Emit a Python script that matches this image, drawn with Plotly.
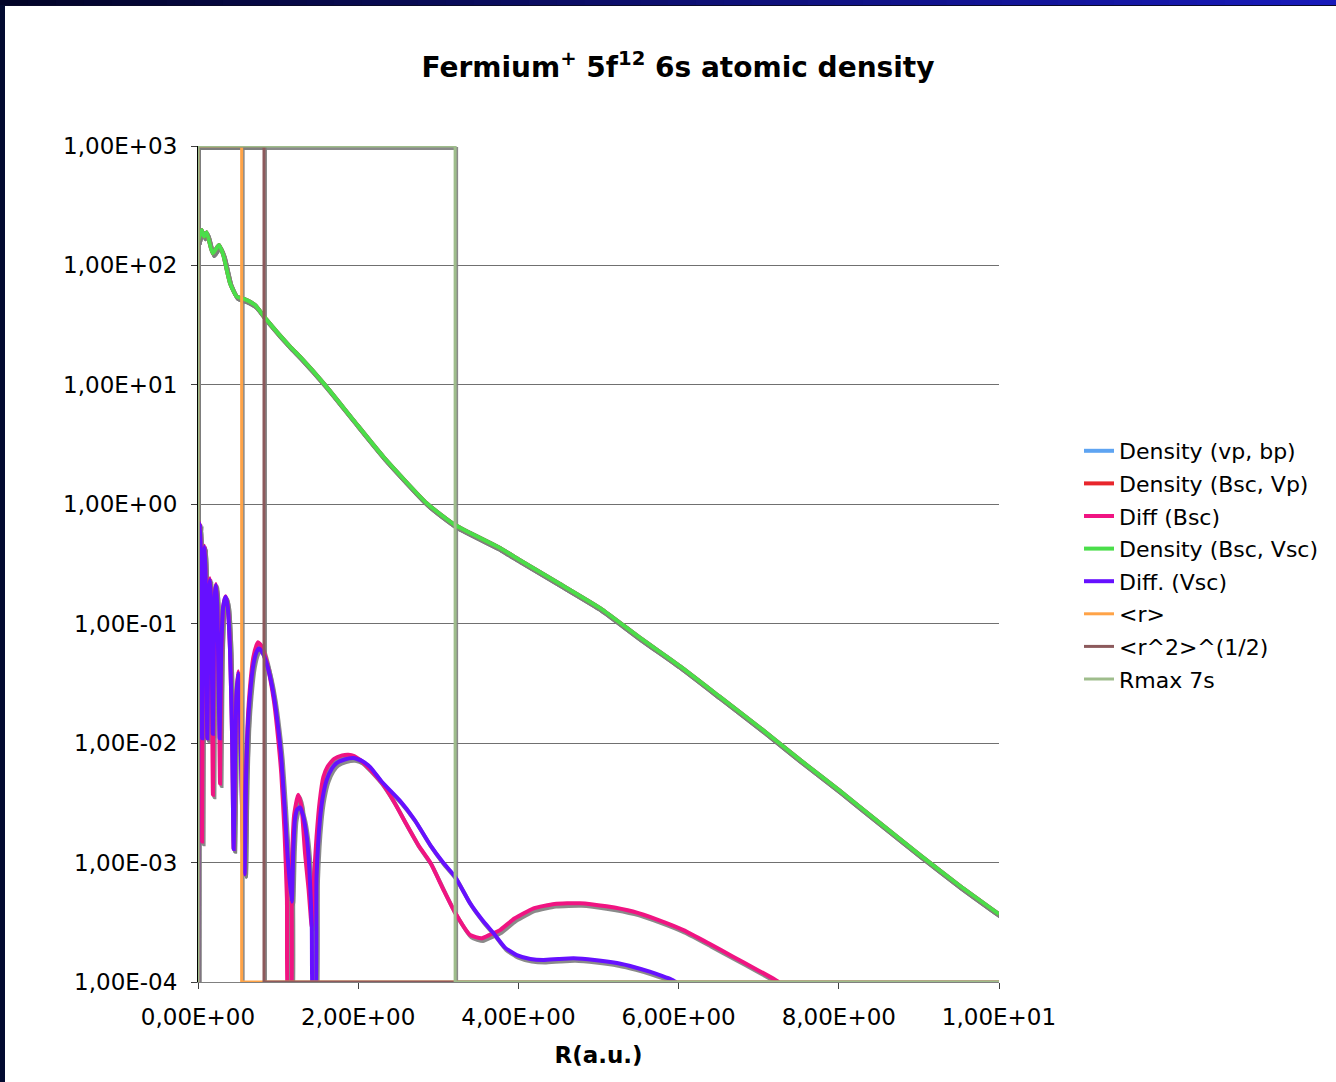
import plotly.graph_objects as go

# ---------------------------------------------------------------------------
# Radial electron density of Fm+ (5f12 6s), different basis / potential setups
# ---------------------------------------------------------------------------
r_density = [0.0, 0.012, 0.046, 0.075, 0.108, 0.183, 0.262, 0.316, 0.40, 0.483,
             0.587, 0.712, 0.857, 1.149, 1.273, 1.585, 1.939, 2.314, 2.855, 3.21,
             3.77, 4.02, 4.52, 5.02, 5.52, 6.02, 6.52, 7.02, 7.52, 8.01, 8.51,
             9.01, 9.51, 10.0]
density_vp_bp = [157, 170, 198, 174, 190, 126, 148, 122, 71, 55,
                 52, 46.6, 35, 20.9, 17.2, 10.0, 5.08, 2.5, 1.02, 0.67,
                 0.43, 0.34, 0.215, 0.135, 0.076, 0.044, 0.0243, 0.0134, 0.0072,
                 0.0040, 0.00215, 0.00116, 0.00064, 0.00037]
density_bsc_vp = [157, 170, 198, 174, 190, 126, 148, 122, 71, 55,
                  52, 46.6, 35, 20.9, 17.2, 10.0, 5.08, 2.5, 1.02, 0.67,
                  0.43, 0.34, 0.215, 0.135, 0.076, 0.044, 0.0243, 0.0134, 0.0072,
                  0.0040, 0.00215, 0.00116, 0.00064, 0.00037]
density_bsc_vsc = [157, 170, 198, 174, 190, 126, 148, 122, 71, 55,
                   52, 46.6, 35, 20.9, 17.2, 10.0, 5.08, 2.5, 1.02, 0.67,
                   0.43, 0.34, 0.215, 0.135, 0.076, 0.044, 0.0243, 0.0134, 0.0072,
                   0.0040, 0.00215, 0.00116, 0.00064, 0.00037]

# absolute density differences (zero values fall below the log axis floor)
r_diff_bsc = [0.0, 0.004, 0.012, 0.025, 0.036, 0.046, 0.051, 0.058, 0.07, 0.083,
              0.094, 0.105, 0.116, 0.127, 0.138, 0.15, 0.162, 0.174, 0.186, 0.197,
              0.212, 0.225, 0.24, 0.26, 0.275, 0.29, 0.315, 0.345, 0.37, 0.40,
              0.425, 0.445, 0.46, 0.48, 0.503, 0.52, 0.54, 0.56, 0.58, 0.60,
              0.62, 0.65, 0.69, 0.73, 0.75, 0.80, 0.85, 0.90, 0.95, 1.00,
              1.04, 1.08, 1.11, 1.13, 1.155, 1.17, 1.20, 1.25, 1.29, 1.336,
              1.38, 1.42, 1.45, 1.48, 1.52, 1.565, 1.62, 1.70, 1.80, 1.877,
              1.95, 2.05, 2.15, 2.30, 2.45, 2.60, 2.75, 2.90, 3.06, 3.21,
              3.396, 3.54, 3.65, 3.77, 3.95, 4.19, 4.45, 4.77, 5.10, 5.43,
              5.75, 6.06, 6.38, 6.68, 6.95, 7.20, 7.25]
diff_bsc = [5e-5, 0.08, 0.46, 0.70, 0.33, 0.02, 0.0015, 0.03, 0.30, 0.45,
            0.25, 0.05, 0.011, 0.06, 0.20, 0.24, 0.15, 0.03, 0.0037, 0.05,
            0.18, 0.215, 0.14, 0.03, 0.0046, 0.05, 0.14, 0.17, 0.14, 0.06,
            0.012, 0.0013, 0.006, 0.026, 0.040, 0.026, 0.006, 0.0015, 0.0008, 0.006,
            0.015, 0.030, 0.052, 0.066, 0.070, 0.064, 0.050, 0.035, 0.022, 0.011,
            0.0055, 0.0018, 0.0005, 5e-5, 5e-5, 0.0008, 0.0025, 0.0037, 0.0030, 0.0012,
            0.0006, 0.00029, 0.0008, 0.00165, 0.0033, 0.0052, 0.0064, 0.0074, 0.0079, 0.0080,
            0.0078, 0.0070, 0.0060, 0.0046, 0.0032, 0.0021, 0.0014, 0.0010, 0.0006, 0.00038,
            0.000248, 0.000232, 0.00025, 0.000272, 0.00034, 0.000414, 0.00045, 0.000457, 0.00043, 0.000389,
            0.00033, 0.000272, 0.00021, 0.000163, 0.00013, 0.000105, 0.0001]

r_diff_vsc = [0.0, 0.004, 0.012, 0.025, 0.036, 0.046, 0.053, 0.062, 0.072, 0.083,
              0.094, 0.105, 0.116, 0.127, 0.138, 0.15, 0.162, 0.174, 0.185, 0.197,
              0.212, 0.225, 0.24, 0.255, 0.27, 0.29, 0.315, 0.345, 0.37, 0.40,
              0.425, 0.445, 0.46, 0.48, 0.503, 0.52, 0.54, 0.56, 0.58, 0.60,
              0.62, 0.65, 0.69, 0.73, 0.76, 0.80, 0.85, 0.90, 0.95, 1.00,
              1.04, 1.08, 1.12, 1.17, 1.19, 1.21, 1.24, 1.273, 1.31, 1.357,
              1.39, 1.42, 1.44, 1.46, 1.48, 1.523, 1.56, 1.606, 1.67, 1.73,
              1.83, 1.94, 2.05, 2.15, 2.30, 2.52, 2.70, 2.90, 3.06, 3.21,
              3.396, 3.55, 3.69, 3.83, 3.98, 4.15, 4.31, 4.50, 4.69, 4.95,
              5.23, 5.45, 5.64, 5.80, 5.91, 5.97]
diff_vsc = [5e-5, 0.08, 0.45, 0.69, 0.35, 0.05, 0.011, 0.08, 0.35, 0.44,
            0.25, 0.05, 0.011, 0.06, 0.19, 0.232, 0.15, 0.04, 0.012, 0.06,
            0.18, 0.211, 0.14, 0.04, 0.011, 0.06, 0.14, 0.168, 0.14, 0.06,
            0.012, 0.0013, 0.006, 0.025, 0.0385, 0.025, 0.006, 0.0015, 0.0008, 0.005,
            0.013, 0.026, 0.045, 0.058, 0.062, 0.058, 0.048, 0.036, 0.024, 0.0135,
            0.0075, 0.0030, 0.0011, 0.00047, 0.0013, 0.0023, 0.0028, 0.0029, 0.0025, 0.00165,
            0.0009, 0.0003, 5e-5, 5e-5, 0.00076, 0.0023, 0.0036, 0.0049, 0.0061, 0.0068,
            0.0073, 0.0075, 0.0071, 0.0063, 0.0047, 0.0033, 0.0023, 0.0014, 0.0010, 0.00076,
            0.000457, 0.00033, 0.000256, 0.000195, 0.000168, 0.000156, 0.000153, 0.000156, 0.000158, 0.000153,
            0.000144, 0.000133, 0.000122, 0.000112, 0.000105, 0.0001]

# characteristic radii drawn as step markers
r_mean = 0.545
r_rms = 0.824
r_max_7s = 3.21
marker_top = 1000.0
marker_floor = 1e-4

x_tick_values = [0, 2, 4, 6, 8, 10]
x_tick_labels = ["0,00E+00", "2,00E+00", "4,00E+00", "6,00E+00", "8,00E+00", "1,00E+01"]
y_tick_values = [1e-4, 1e-3, 1e-2, 1e-1, 1e0, 1e1, 1e2, 1e3]
y_tick_labels = ["1,00E-04", "1,00E-03", "1,00E-02", "1,00E-01",
                 "1,00E+00", "1,00E+01", "1,00E+02", "1,00E+03"]

# ---------------------------------------------------------------------------
W, H = 1336, 1082
ML, MR, MT, MB = 198, 337, 146, 100
PW, PH = W - ML - MR, H - MT - MB
X_RANGE = (0.0, 10.0)
Y_RANGE = (-4.0, 3.0)

# drop shadow offset (pixels) translated to axis units
SH_DX, SH_DY = 1.5, 2.6
sh_dx = SH_DX * (X_RANGE[1] - X_RANGE[0]) / PW
sh_dy = SH_DY * (Y_RANGE[1] - Y_RANGE[0]) / PH
SHADOW = "rgba(125,125,125,0.9)"
FONT = "DejaVu Sans"


def step(radius):
    xs = [0.0, 0.0, radius, radius, X_RANGE[1]]
    ys = [marker_floor, marker_top, marker_top, marker_floor, marker_floor]
    return xs, ys


series = [
    ("Density (vp, bp)", r_density, density_vp_bp, "#5ea4f2", 4.0, "spline"),
    ("Density (Bsc, Vp)", r_density, density_bsc_vp, "#e8262c", 4.0, "spline"),
    ("Diff (Bsc)", r_diff_bsc, diff_bsc, "#f01482", 4.0, "spline"),
    ("Density (Bsc, Vsc)", r_density, density_bsc_vsc, "#4ade4a", 4.0, "spline"),
    ("Diff. (Vsc)", r_diff_vsc, diff_vsc, "#6610ff", 4.0, "spline"),
    ("<r>", *step(r_mean), "#ffa347", 3.0, "linear"),
    ("<r^2>^(1/2)", *step(r_rms), "#8c5a5c", 3.0, "linear"),
    ("Rmax 7s", *step(r_max_7s), "#9fbd8c", 3.0, "linear"),
]

fig = go.Figure()

# shadows first, on the base axes
for name, xs, ys, color, width, shape in series:
    fig.add_trace(go.Scatter(
        x=xs, y=ys, mode="lines", showlegend=False, hoverinfo="skip",
        line=dict(color=SHADOW, width=width, shape=shape, smoothing=0.5),
        xaxis="x", yaxis="y",
    ))

# coloured series on the overlaying axes
for i, (name, xs, ys, color, width, shape) in enumerate(series):
    fig.add_trace(go.Scatter(
        x=xs, y=ys, mode="lines", name=name, legendgroup=f"g{i}",
        line=dict(color=color, width=width, shape=shape, smoothing=0.5),
        xaxis="x2", yaxis="y2",
    ))


def px_to_paper_x(px):
    return (px - ML) / PW


def px_to_paper_y(py):
    return (H - MB - py) / PH


# slide frame: gradient band on top, dark band on the left
shapes = []
n_seg = 48
c0, c1 = (2, 4, 40), (24, 26, 186)
for k in range(n_seg):
    t = k / (n_seg - 1)
    col = "rgb({},{},{})".format(*[round(a + (b - a) * t) for a, b in zip(c0, c1)])
    shapes.append(dict(
        type="rect", xref="paper", yref="paper", layer="above",
        x0=px_to_paper_x(k * W / n_seg), x1=px_to_paper_x((k + 1) * W / n_seg + 1),
        y0=px_to_paper_y(5), y1=px_to_paper_y(-2),
        fillcolor=col, line=dict(width=0),
    ))
shapes.append(dict(type="rect", xref="paper", yref="paper", layer="above",
                   x0=px_to_paper_x(0), x1=px_to_paper_x(W + 2),
                   y0=px_to_paper_y(6), y1=px_to_paper_y(5),
                   fillcolor="#0a0a2a", line=dict(width=0)))
shapes.append(dict(type="rect", xref="paper", yref="paper", layer="above",
                   x0=px_to_paper_x(-2), x1=px_to_paper_x(5),
                   y0=px_to_paper_y(H + 2), y1=px_to_paper_y(5),
                   fillcolor="#020a30", line=dict(width=0)))

axis_font = dict(family=FONT, size=23, color="black")

fig.update_layout(
    width=W, height=H,
    margin=dict(l=ML, r=MR, t=MT, b=MB, pad=0),
    paper_bgcolor="white", plot_bgcolor="white",
    font=dict(family=FONT, color="black"),
    title=dict(
        text="Fermium<sup>+</sup> 5f<sup>12</sup> 6s atomic density",
        font=dict(family=FONT, size=28, color="black", weight="bold"),
        x=678 / W, xref="container", xanchor="center",
        y=1 - 67 / H, yref="container", yanchor="middle",
    ),
    xaxis=dict(visible=False, range=[X_RANGE[0] - sh_dx, X_RANGE[1] - sh_dx],
               showgrid=False, zeroline=False),
    yaxis=dict(visible=False, type="log", range=[Y_RANGE[0] + sh_dy, Y_RANGE[1] + sh_dy],
               showgrid=False, zeroline=False),
    xaxis2=dict(
        overlaying="x", anchor="y2", side="bottom",
        range=list(X_RANGE), tickvals=x_tick_values, ticktext=x_tick_labels,
        ticks="outside", ticklen=6, tickcolor="#404040", tickwidth=1,
        showline=True, linecolor="#808080", linewidth=1,
        showgrid=False, zeroline=False, tickfont=axis_font,
        ticklabelstandoff=8,
        title=dict(text="R(a.u.)", font=dict(family=FONT, size=23, color="black", weight="bold"),
                   standoff=18),
    ),
    yaxis2=dict(
        overlaying="y", anchor="x2", side="left", type="log",
        range=list(Y_RANGE), tickvals=y_tick_values, ticktext=y_tick_labels,
        ticks="outside", ticklen=6, tickcolor="#404040", tickwidth=1,
        showline=True, linecolor="black", linewidth=1,
        showgrid=True, gridcolor="#707070", gridwidth=1,
        zeroline=False, tickfont=axis_font, ticklabelstandoff=9,
    ),
    legend=dict(
        x=px_to_paper_x(1079), y=px_to_paper_y(430), xanchor="left", yanchor="top",
        bgcolor="rgba(0,0,0,0)", borderwidth=0,
        font=dict(family=FONT, size=22, color="black"),
        traceorder="grouped", tracegroupgap=1,
    ),
    shapes=shapes,
    showlegend=True,
)

fig.write_html("out.html")
